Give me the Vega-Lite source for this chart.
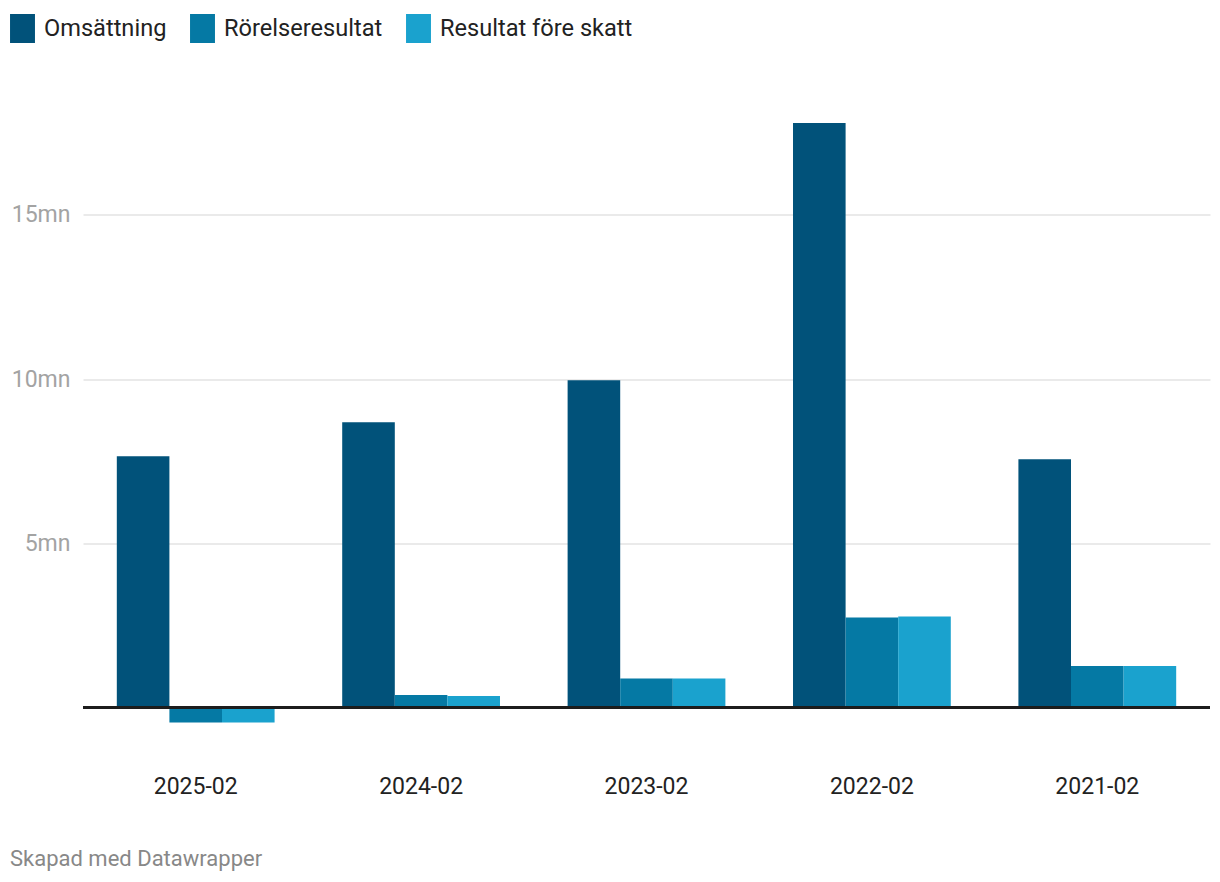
{
  "$schema": "https://vega.github.io/schema/vega-lite/v6.json",
  "width": 1127,
  "height": 623.8,
  "autosize": "none",
  "padding": {"left": 83, "top": 116.5, "right": 10, "bottom": 141.7},
  "config": {
    "font": "Roboto",
    "view": {"stroke": null},
    "legend": {"padding": 0}
  },
  "title": {
    "text": "Skapad med Datawrapper",
    "orient": "bottom",
    "anchor": "start",
    "frame": "group",
    "dx": -73,
    "offset": 51,
    "fontSize": 22,
    "fontWeight": "normal",
    "color": "#888888",
    "font": "Roboto"
  },
  "data": {
    "values": [
      {"period": "2025-02", "serie": "Omsättning", "value": 7650000},
      {"period": "2025-02", "serie": "Rörelseresultat", "value": -460000},
      {"period": "2025-02", "serie": "Resultat före skatt", "value": -460000},
      {"period": "2024-02", "serie": "Omsättning", "value": 8690000},
      {"period": "2024-02", "serie": "Rörelseresultat", "value": 380000},
      {"period": "2024-02", "serie": "Resultat före skatt", "value": 350000},
      {"period": "2023-02", "serie": "Omsättning", "value": 9970000},
      {"period": "2023-02", "serie": "Rörelseresultat", "value": 880000},
      {"period": "2023-02", "serie": "Resultat före skatt", "value": 880000},
      {"period": "2022-02", "serie": "Omsättning", "value": 17800000},
      {"period": "2022-02", "serie": "Rörelseresultat", "value": 2740000},
      {"period": "2022-02", "serie": "Resultat före skatt", "value": 2770000},
      {"period": "2021-02", "serie": "Omsättning", "value": 7560000},
      {"period": "2021-02", "serie": "Rörelseresultat", "value": 1260000},
      {"period": "2021-02", "serie": "Resultat före skatt", "value": 1260000}
    ]
  },
  "layer": [
    {
      "mark": {"type": "bar"},
      "encoding": {
        "x": {
          "field": "period",
          "type": "nominal",
          "sort": ["2025-02", "2024-02", "2023-02", "2022-02", "2021-02"],
          "scale": {"paddingInner": 0.3, "paddingOuter": 0.15},
          "axis": {
            "title": null,
            "labelAngle": 0,
            "labelFontSize": 23,
            "labelColor": "#222222",
            "ticks": false,
            "domain": false,
            "labelPadding": 35
          }
        },
        "xOffset": {
          "field": "serie",
          "type": "nominal",
          "sort": ["Omsättning", "Rörelseresultat", "Resultat före skatt"]
        },
        "y": {
          "field": "value",
          "type": "quantitative",
          "scale": {"domain": [-1000000, 18000000], "nice": false, "zero": false},
          "axis": {
            "title": null,
            "values": [5000000, 10000000, 15000000],
            "labelExpr": "datum.value / 1000000 + 'mn'",
            "gridColor": "#e3e3e3",
            "gridWidth": 1.5,
            "domain": false,
            "ticks": false,
            "labelFontSize": 23,
            "labelColor": "#a3a3a3",
            "labelPadding": 13
          }
        },
        "color": {
          "field": "serie",
          "type": "nominal",
          "scale": {
            "domain": ["Omsättning", "Rörelseresultat", "Resultat före skatt"],
            "range": ["#01527a", "#0579a4", "#1aa2ce"]
          },
          "legend": {
            "title": null,
            "orient": "none",
            "direction": "horizontal",
            "legendX": -75,
            "legendY": -102.5,
            "symbolType": "M-0.86,-1H0.86V1H-0.86Z",
            "symbolSize": 841,
            "symbolOpacity": 1,
            "symbolStrokeWidth": 0,
            "labelFontSize": 23.6,
            "labelColor": "#222222",
            "labelOffset": 7,
            "columnPadding": 21,
            "labelLimit": 400
          }
        }
      }
    },
    {
      "mark": {"type": "rule", "color": "#1d1d1d", "strokeWidth": 2},
      "encoding": {"y": {"datum": 0}}
    }
  ]
}
